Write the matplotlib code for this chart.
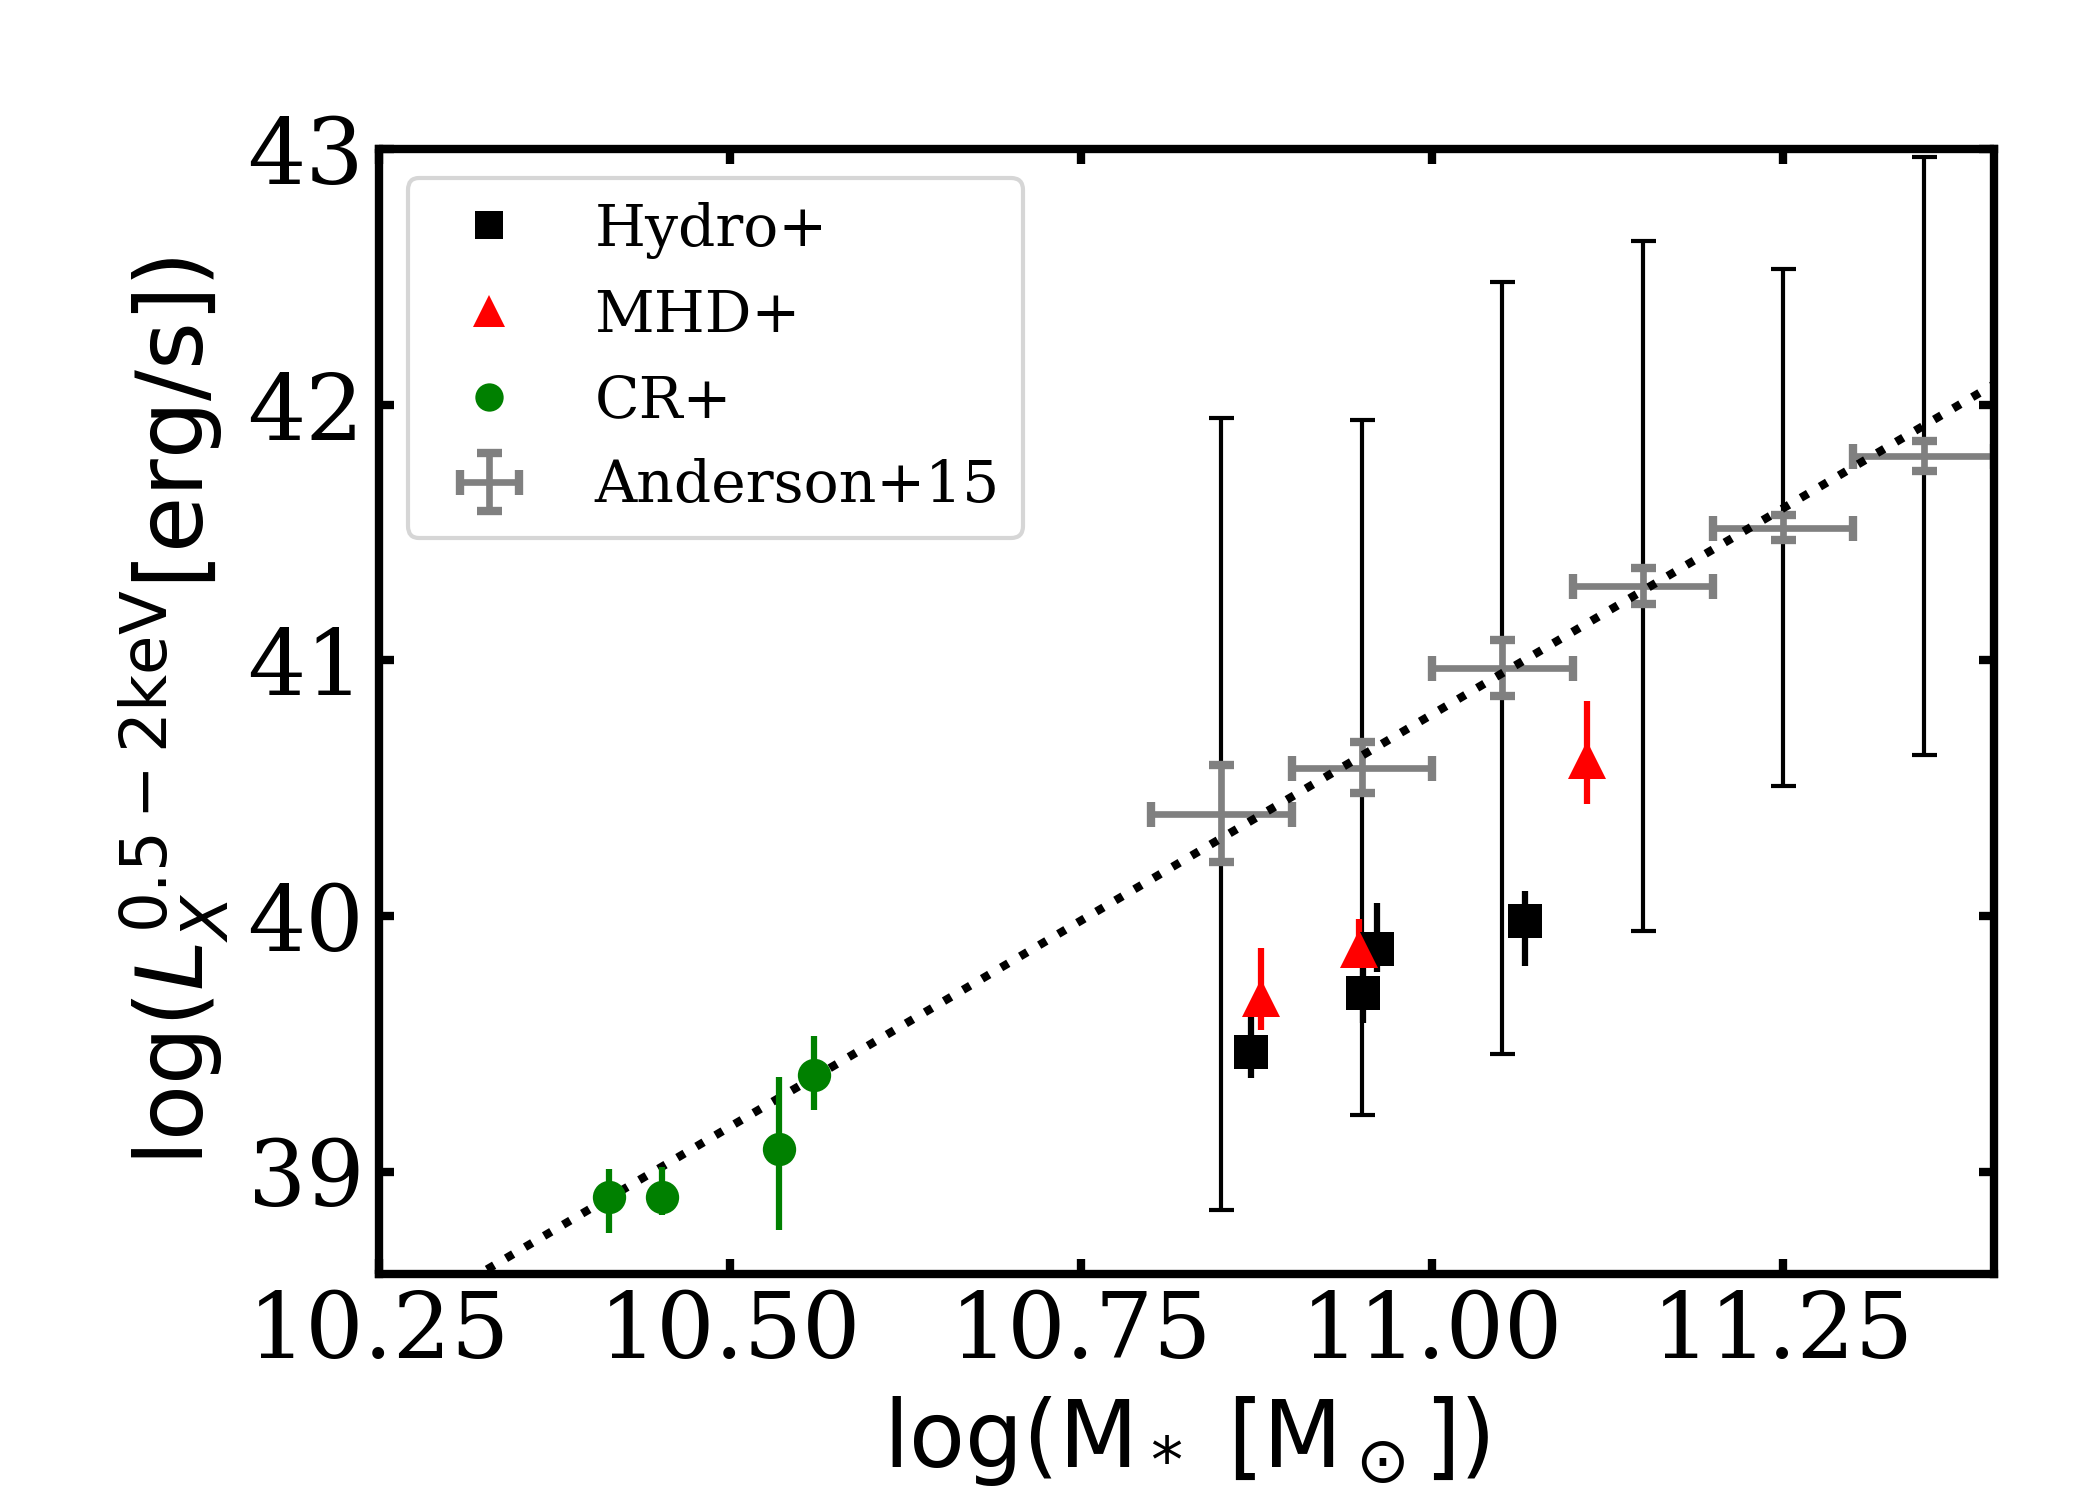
import numpy as np
import matplotlib
matplotlib.use("Agg")
import matplotlib.pyplot as plt

# simulated galaxies
hydro_x = [10.871, 10.951, 10.961, 11.066]
hydro_y = [39.47, 39.70, 39.87, 39.98]
hydro_lo = [0.105, 0.12, 0.09, 0.175]
hydro_hi = [0.17, 0.12, 0.18, 0.117]

mhd_x = [10.878, 10.948, 11.110]
mhd_y = [39.68, 39.87, 40.61]
mhd_lo = [0.126, 0.06, 0.17]
mhd_hi = [0.195, 0.12, 0.23]

cr_x = [10.414, 10.452, 10.535, 10.560]
cr_y = [38.90, 38.90, 39.09, 39.38]
cr_lo = [0.14, 0.07, 0.32, 0.14]
cr_hi = [0.11, 0.12, 0.28, 0.15]

# Anderson+15 stacked measurements
and_x = [10.85, 10.95, 11.05, 11.15, 11.25, 11.35]
and_y = [40.40, 40.58, 40.97, 41.29, 41.52, 41.80]
and_yerr = [0.19, 0.10, 0.11, 0.07, 0.05, 0.06]
and_xerr = [0.05, 0.05, 0.05, 0.05, 0.05, 0.05]
and_scatter = [1.55, 1.36, 1.51, 1.35, 1.01, 1.17]

# dotted reference relation (end points)
fit_x = [10.30, 11.40]
fit_y = [38.53, 42.08]

xticks = [10.25, 10.50, 10.75, 11.00, 11.25]
yticks = [39, 40, 41, 42, 43]

plt.rcParams['font.family'] = 'serif'
plt.rcParams['font.serif'] = ['DejaVu Serif']

fig = plt.figure(figsize=(7, 5), dpi=300)
ax = fig.add_axes([0.1803, 0.1507, 0.7692, 0.7498])

ax.errorbar(and_x, and_y, yerr=and_scatter, fmt='none', ecolor='k',
            elinewidth=1.0, capsize=3, capthick=1.0, zorder=1)
ax.errorbar(and_x, and_y, xerr=and_xerr, yerr=and_yerr, fmt='none', ecolor='gray',
            elinewidth=1.6, capsize=3, capthick=2, zorder=2, label='Anderson+15')

ax.plot(fit_x, fit_y, ':', color='k', lw=2, zorder=3)

ax.errorbar(hydro_x, hydro_y, yerr=[hydro_lo, hydro_hi], fmt='none', ecolor='k',
            elinewidth=1.5, zorder=4)
ax.errorbar(mhd_x, mhd_y, yerr=[mhd_lo, mhd_hi], fmt='none', ecolor='red',
            elinewidth=1.5, zorder=4)
ax.errorbar(cr_x, cr_y, yerr=[cr_lo, cr_hi], fmt='none', ecolor='green',
            elinewidth=1.5, zorder=4)

ax.plot(hydro_x, hydro_y, 's', color='k', ms=8, mew=0, zorder=5, label='Hydro+')
ax.plot(mhd_x, mhd_y, '^', color='red', ms=9, mew=0, zorder=6, label='MHD+')
ax.plot(cr_x, cr_y, 'o', color='green', ms=8, mew=0, zorder=5, label='CR+')

ax.set_xlim(10.25, 11.40)
ax.set_ylim(38.6, 43)
ax.set_xticks(xticks)
ax.set_yticks(yticks)
ax.tick_params(direction='in', top=True, right=True, width=2, length=3.5,
               labelsize=22)
for sp in ax.spines.values():
    sp.set_linewidth(2)

ax.set_xlabel(r'log(M$_*$ [M$_\odot$])', fontsize=22, family='DejaVu Sans')
ax.set_ylabel(r'log($L_X^{0.5-2\mathrm{keV}}$[erg/s])', fontsize=22,
              family='DejaVu Sans')

ax.legend(loc='upper left', fontsize=14, markerscale=0.85)

fig.savefig('out.png', dpi=300)
